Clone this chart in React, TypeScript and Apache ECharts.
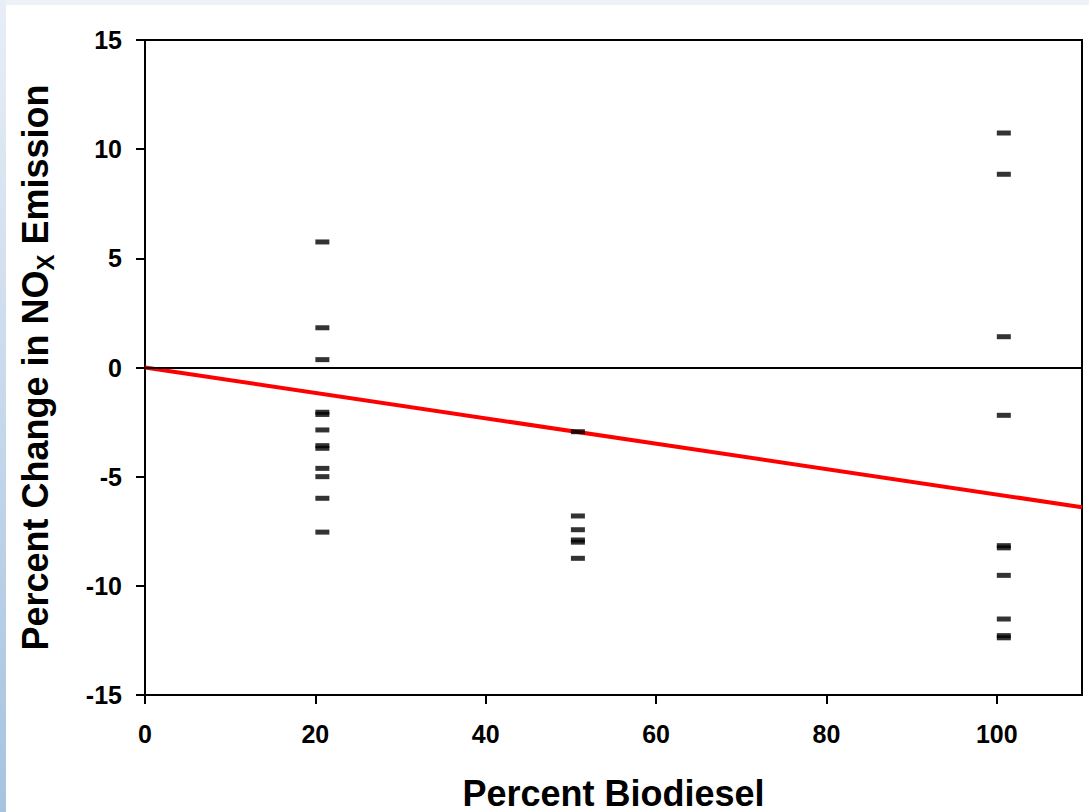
import React, { useEffect, useRef } from "react";
import * as echarts from "echarts";

// ---- data ----
const xTickValues = [0, 20, 40, 60, 80, 100];
const yRange = [-15, 15];
const xRange = [0, 110];

const b20Blend = 20;
const b20Changes = [5.75, 1.82, 0.36, -2.05, -2.15, -2.86, -3.58, -3.7, -4.62, -5.0, -5.99, -7.54];

const b50Blend = 50;
const b50Changes = [-2.94, -6.8, -7.43, -7.9, -8.0, -8.74];

const b100Blend = 100;
const b100Changes = [10.74, 8.85, 1.41, -2.19, -8.16, -8.26, -9.52, -11.52, -12.28, -12.38];

const trendX = [0, 110];
const trendY = [0, -6.4];

const FONT = "'Liberation Sans', Arial, Helvetica, sans-serif";

export default function App() {
  const ref = useRef<HTMLDivElement>(null);

  useEffect(() => {
    if (!ref.current) return;
    const chart = echarts.init(ref.current, undefined, { renderer: "svg" });

    const points: number[][] = [
      ...b20Changes.map((v) => [b20Blend, v]),
      ...b50Changes.map((v) => [b50Blend, v]),
      ...b100Changes.map((v) => [b100Blend, v]),
    ];
    const trend = trendX.map((x, i) => [x, trendY[i]]);

    const labelStyle = {
      fontFamily: FONT,
      fontWeight: "bold" as const,
      fontSize: 25,
      color: "#000",
    };

    chart.setOption({
      animation: false,
      backgroundColor: "#ffffff",
      graphic: [
        {
          type: "rect",
          left: 0,
          top: 0,
          shape: { x: 0, y: 0, width: 1089, height: 5 },
          style: { fill: "#edf1f8" },
          silent: true,
          z: -10,
        },
        {
          type: "rect",
          left: 0,
          top: 0,
          shape: { x: 0, y: 0, width: 6, height: 812 },
          style: {
            fill: new echarts.graphic.LinearGradient(0, 0, 0, 1, [
              { offset: 0, color: "#e8eef7" },
              { offset: 1, color: "#a6c3e0" },
            ]),
          },
          silent: true,
          z: -10,
        },
      ],
      grid: {
        left: 145,
        right: 7,
        top: 40,
        bottom: 117,
        outerBoundsMode: "none",
        containLabel: false,
        show: true,
        borderColor: "#000",
        borderWidth: 2,
        backgroundColor: "transparent",
      },
      xAxis: {
        type: "value",
        min: xRange[0],
        max: xRange[1],
        interval: 20,
        name: "Percent Biodiesel",
        nameLocation: "middle",
        nameGap: 78,
        nameTextStyle: {
          fontFamily: FONT,
          fontWeight: "bold",
          fontSize: 36,
          color: "#000",
          lineHeight: 40,
        },
        axisLine: { onZero: false, lineStyle: { color: "#000", width: 2 } },
        axisTick: {
          show: true,
          inside: false,
          length: 9,
          customValues: xTickValues,
          lineStyle: { color: "#000", width: 2 },
        },
        axisLabel: { ...labelStyle, margin: 26, customValues: xTickValues },
        splitLine: { show: false },
      },
      yAxis: {
        type: "value",
        min: yRange[0],
        max: yRange[1],
        interval: 5,
        name: "{n|Percent Change in NO}{sub|X}{n| Emission}",
        nameLocation: "middle",
        nameGap: 88,
        nameRotate: 90,
        nameTextStyle: {
          fontFamily: FONT,
          fontWeight: "bold",
          fontSize: 36,
          color: "#000",
          rich: {
            n: {
              fontFamily: FONT,
              fontWeight: "bold",
              fontSize: 36,
              color: "#000",
              lineHeight: 40,
              verticalAlign: "top",
            },
            sub: {
              fontFamily: FONT,
              fontWeight: "bold",
              fontSize: 24,
              color: "#000",
              lineHeight: 24,
              verticalAlign: "bottom",
              padding: [20, 0, 0, 0],
            },
          },
        },
        axisLine: { onZero: false, lineStyle: { color: "#000", width: 2 } },
        axisTick: {
          show: true,
          inside: false,
          length: 9,
          lineStyle: { color: "#000", width: 2 },
        },
        axisLabel: { ...labelStyle, margin: 23 },
        splitLine: { show: false },
      },
      series: [
        {
          type: "line",
          data: trend,
          symbol: "none",
          lineStyle: { color: "#ff0000", width: 4 },
          z: 2,
          markLine: {
            silent: true,
            symbol: ["none", "none"],
            label: { show: false },
            lineStyle: { color: "#000", width: 2, type: "solid" },
            data: [{ yAxis: 0 }],
          },
        },
        {
          type: "scatter",
          data: points,
          symbol: "rect",
          symbolSize: [14, 5],
          symbolOffset: [7, 0],
          itemStyle: { color: "#000" },
          z: 5,
        },
      ],
    });

    return () => chart.dispose();
  }, []);

  return (
    <div
      ref={ref}
      style={{ position: "absolute", left: 0, top: 0, width: 1089, height: 812 }}
    />
  );
}
